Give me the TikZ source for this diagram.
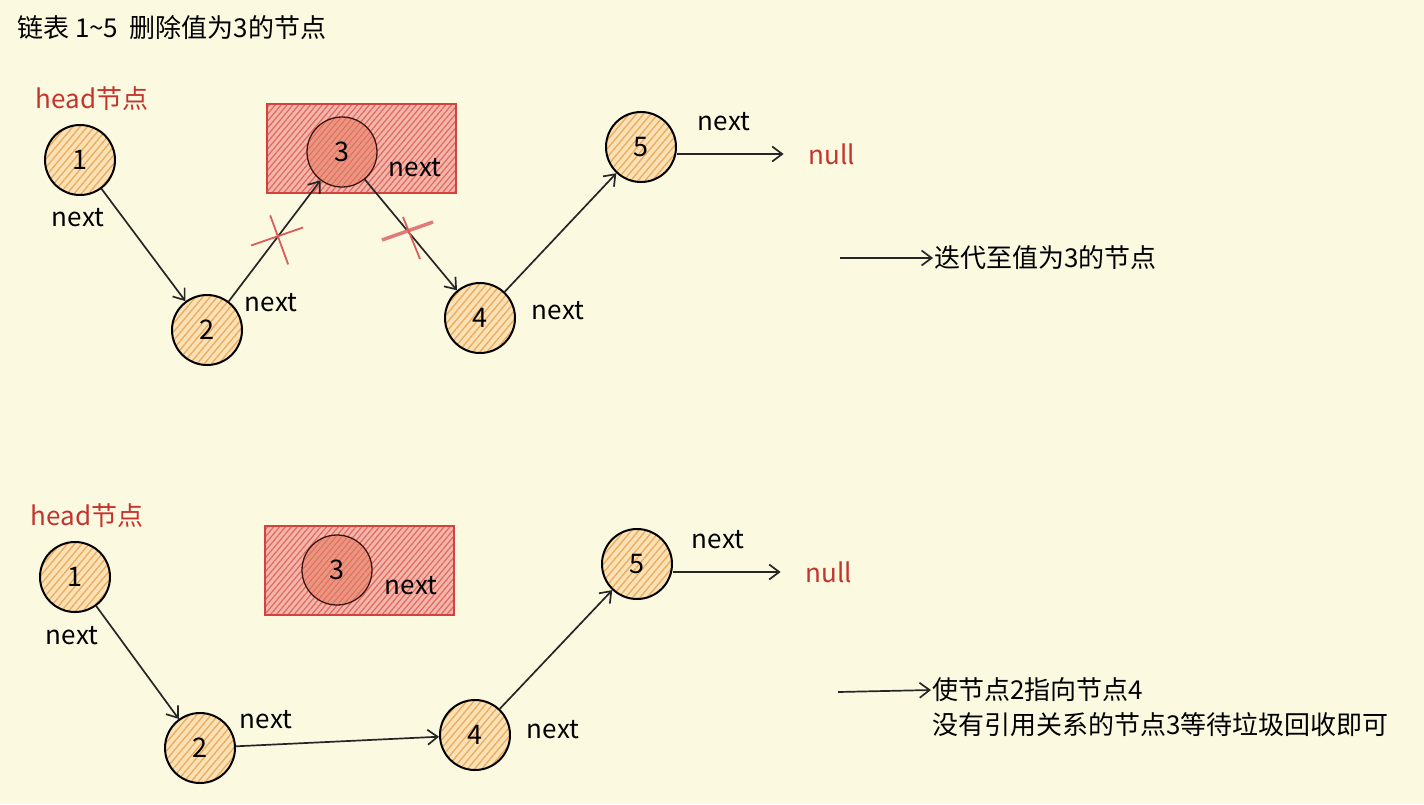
\documentclass[tikz,border=0pt]{standalone}
\usepackage{fontspec}
\setmainfont{Noto Sans CJK SC}
\usetikzlibrary{arrows.meta,patterns.meta,calc}
\definecolor{Papel}{RGB}{252,249,225}
\definecolor{NaranjaPalido}{RGB}{250,226,182}
\definecolor{NaranjaRaya}{RGB}{238,170,92}
\definecolor{RojoBorde}{RGB}{210,66,62}
\definecolor{RojoPalido}{RGB}{243,182,170}
\definecolor{RojoRaya}{RGB}{226,104,96}
\definecolor{Salmon}{RGB}{234,150,126}
\definecolor{RojoTexto}{RGB}{196,52,46}
\tikzset{
  listnode/.style={circle, draw=black, line width=2pt, minimum size=70pt, inner sep=0pt,
    preaction={fill=NaranjaPalido}, pattern={Lines[angle=50,distance=5.5pt,line width=1.3pt]},
    pattern color=NaranjaRaya, font=\fontsize{27}{30}\selectfont},
  delbox/.style={draw=RojoBorde, line width=2.2pt, minimum width=189pt, minimum height=89pt,
    inner sep=0pt, preaction={fill=RojoPalido},
    pattern={Lines[angle=50,distance=4.5pt,line width=1.2pt]}, pattern color=RojoRaya},
  delnode/.style={circle, draw=black!70!RojoBorde, line width=1.3pt, minimum size=70pt, inner sep=0pt,
    preaction={fill=Salmon}, pattern={Lines[angle=50,distance=4.5pt,line width=0.9pt]},
    pattern color=RojoRaya, font=\fontsize{27}{30}\selectfont},
  listarr/.style={-{Straight Barb[length=10pt, width=15pt, line width=1.7pt]}, line width=1.7pt, black!85},
  crossmark/.style={draw=RojoBorde!85, line width=1.8pt},
  nextlbl/.style={font=\fontsize{26}{30}\selectfont, inner sep=1pt},
  headlbl/.style={font=\fontsize{26}{30}\selectfont, text=RojoTexto, inner sep=1pt},
  notelbl/.style={font=\fontsize{26}{30}\selectfont, anchor=west, inner sep=1pt},
}
\begin{document}
\begin{tikzpicture}[x=1pt, y=-1pt]
  \useasboundingbox (0,0) rectangle (1424,804);
  \fill[Papel] (0,0) rectangle (1424,804);

  \node[notelbl] (titulo) at (16,28) {链表 1\textasciitilde5 \ 删除值为3的节点};

  % ---- antes: iterar hasta el nodo 3 ----
  \node[headlbl] (thead) at (92,99) {head节点};
  \node[listnode] (t1) at (80,160) {1};
  \node[listnode] (t2) at (207,330) {2};
  \node[delbox] (tbox) at (361.5,148.5) {};
  \node[delnode] (t3) at (342,152) {3};
  \node[listnode] (t4) at (480,318) {4};
  \node[listnode] (t5) at (641,147) {5};
  \node[headlbl] (tnull) at (832,154) {null};

  \node[nextlbl] (tn1) at (78,218) {next};
  \node[nextlbl] (tn2) at (271,303) {next};
  \node[nextlbl] (tn3) at (415,168) {next};
  \node[nextlbl] (tn4) at (558,311) {next};
  \node[nextlbl] (tn5) at (724,122) {next};

  \draw[listarr] (t1) -- (t2);
  \draw[listarr] (t2) -- (t3);
  \draw[listarr] (t3) -- (t4);
  \draw[listarr] (t4) -- (t5);
  \draw[listarr, shorten >=24pt] (t5.east |- tnull.west) -- (tnull.west);

  % cortes en rojo
  \coordinate (x1) at ($(t2)!0.52!(t3)$);
  \coordinate (x2) at ($(t3)!0.5!(t4)$);
  \draw[crossmark] ($(x1)+(-26,8)$) -- ($(x1)+(26,-10)$);
  \draw[crossmark] ($(x1)+(-7,-22)$) -- ($(x1)+(11,27)$);
  \draw[crossmark, line width=3.5pt, draw=RojoBorde!70] ($(x2)+(-29,5)$) -- ($(x2)+(22,-13)$);
  \draw[crossmark] ($(x2)+(-8,-18)$) -- ($(x2)+(9,24)$);

  \coordinate (a1) at (840,258);
  \node[notelbl] (note1) at (933,258) {迭代至值为3的节点};
  \draw[listarr] (a1) -- (note1.west);

  % ---- despues: 2 apunta a 4 ----
  \node[headlbl] (bhead) at (87,516) {head节点};
  \node[listnode] (b1) at (75,577) {1};
  \node[listnode] (b2) at (200,748) {2};
  \node[delbox] (bbox) at (359.5,570.5) {};
  \node[delnode] (b3) at (337,570) {3};
  \node[listnode] (b4) at (475,735) {4};
  \node[listnode] (b5) at (637,564) {5};
  \node[headlbl] (bnull) at (829,572) {null};

  \node[nextlbl] (bn1) at (72,636) {next};
  \node[nextlbl] (bn2) at (266,720) {next};
  \node[nextlbl] (bn3) at (411,586) {next};
  \node[nextlbl] (bn4) at (553,730) {next};
  \node[nextlbl] (bn5) at (718,540) {next};

  \draw[listarr] (b1) -- (b2);
  \draw[listarr] (b2) -- (b4);
  \draw[listarr] (b4) -- (b5);
  \draw[listarr, shorten >=24pt] (b5.east |- bnull.west) -- (bnull.west);

  \coordinate (a2) at (838,692);
  \node[notelbl] (note2) at (931,690) {使节点2指向节点4};
  \node[notelbl] (note3) at (931,725) {没有引用关系的节点3等待垃圾回收即可};
  \draw[listarr] (a2) -- (note2.west);
\end{tikzpicture}
\end{document}
